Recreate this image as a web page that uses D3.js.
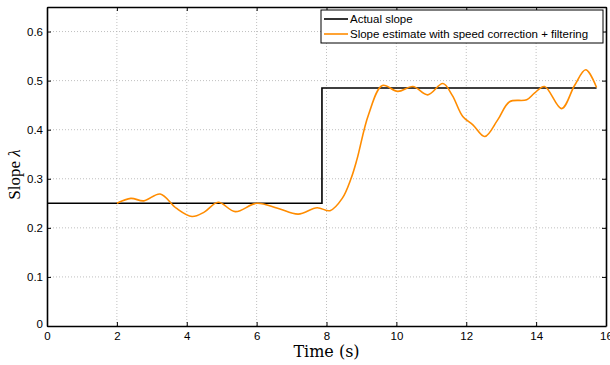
<!DOCTYPE html>
<html lang="en">
<meta charset="utf-8">
<title>Slope estimate</title>
<style>
    body { margin: 0; background: white; }
    svg text { font-family: "Liberation Sans", Arial, sans-serif; }
</style>
<body>
<svg id="canvas"></svg>
<script src="https://cdn.jsdelivr.net/npm/d3@7"></script>
<script>

    /////////////////////// Data //////////////////////
    var x_ticks      = [0, 2, 4, 6, 8, 10, 12, 14, 16];
    var y_ticks      = [0, 0.1, 0.2, 0.3, 0.4, 0.5, 0.6];
    var y_tick_text  = ["0", "0.1", "0.2", "0.3", "0.4", "0.5", "0.6"];

    // actual slope (step)
    var actual_t     = [0, 7.87, 7.87, 15.73];
    var actual_v     = [0.25, 0.25, 0.485, 0.485];

    // estimated slope
    var est_t = [2.0, 2.4, 2.77, 3.24, 3.7, 4.15, 4.5, 4.9, 5.39, 6.0, 6.6, 7.19, 7.73, 8.1,
                 8.45, 8.7, 8.87, 9.2, 9.6, 10.04, 10.47, 10.9, 11.33, 11.6, 11.9, 12.19,
                 12.53, 12.9, 13.24, 13.73, 13.96, 14.24, 14.73, 15.1, 15.42, 15.73];
    var est_v = [0.25, 0.26, 0.255, 0.269, 0.24, 0.223, 0.232, 0.252, 0.233, 0.25, 0.24, 0.228, 0.241, 0.235,
                 0.26, 0.30, 0.339, 0.43, 0.49, 0.478, 0.488, 0.471, 0.494, 0.47, 0.427, 0.41,
                 0.386, 0.42, 0.457, 0.461, 0.475, 0.488, 0.443, 0.49, 0.522, 0.486];

    var legend_text  = ["Actual slope", "Slope estimate with speed correction + filtering"];
    ///////////////////////////////////////////////////

    ////////////////////// Layout /////////////////////
    var width  = 610, height = 365;
    var m = {left: 47, right: 4, top: 7, bottom: 39};
    var pw = width - m.left - m.right;
    var ph = height - m.top - m.bottom;

    var actual_color = '#000000';
    var est_color    = '#ff8c00';
    var grid_color   = '#b0b0b0';
    ///////////////////////////////////////////////////

    var svg = d3.select("#canvas")
        .attr('width', width)
        .attr('height', height);

    var x = d3.scaleLinear().domain([0, 16]).range([m.left, m.left + pw]);
    var y = d3.scaleLinear().domain([0, 0.65]).range([m.top + ph, m.top]);

    // grid
    var grid = svg.append("g");
    grid.selectAll("line.gx").data(x_ticks.slice(1, -1)).enter().append("line")
        .attr('x1', d => x(d)).attr('x2', d => x(d))
        .attr('y1', y(0)).attr('y2', y(0.65))
        .attr('stroke', grid_color).attr('stroke-width', 0.8)
        .attr('stroke-dasharray', '1,2');
    grid.selectAll("line.gy").data(y_ticks.slice(1)).enter().append("line")
        .attr('y1', d => y(d)).attr('y2', d => y(d))
        .attr('x1', x(0)).attr('x2', x(16))
        .attr('stroke', grid_color).attr('stroke-width', 0.8)
        .attr('stroke-dasharray', '1,2');

    // axes (inward ticks, all four sides)
    var xb = svg.append("g").attr('transform', 'translate(0,' + y(0) + ')')
        .call(d3.axisBottom(x).tickValues(x_ticks).tickSizeInner(-4).tickSizeOuter(0).tickPadding(4));
    var xt = svg.append("g").attr('transform', 'translate(0,' + y(0.65) + ')')
        .call(d3.axisTop(x).tickValues(x_ticks).tickSizeInner(-4).tickSizeOuter(0).tickFormat(""));
    var yl = svg.append("g").attr('transform', 'translate(' + x(0) + ',0)')
        .call(d3.axisLeft(y).tickValues(y_ticks).tickSizeInner(-4).tickSizeOuter(0).tickPadding(4)
              .tickFormat((d, i) => y_tick_text[i]));
    var yr = svg.append("g").attr('transform', 'translate(' + x(16) + ',0)')
        .call(d3.axisRight(y).tickValues(y_ticks).tickSizeInner(-4).tickSizeOuter(0).tickFormat(""));

    [xb, xt, yl, yr].forEach(function (g) {
        g.select(".domain").attr('stroke', '#000').attr('stroke-width', 1.6);
        g.selectAll(".tick line").attr('stroke', '#000');
        g.selectAll(".tick text").attr('font-size', 11.5).attr('fill', '#000')
         .attr('font-family', '"Liberation Sans", Arial, sans-serif');
    });
    xb.selectAll(".tick text").attr('dy', '0.9em');
    yl.selectAll(".tick text").attr('dy', '0.35em');
    yl.selectAll(".tick text").filter(d => d === 0).attr('dy', '0.1em');

    // lines
    var actual_line = d3.line()
        .x((d, i) => x(actual_t[i]))
        .y(d => y(d));
    svg.append("path")
        .attr('d', actual_line(actual_v))
        .attr('fill', 'none')
        .attr('stroke', actual_color)
        .attr('stroke-width', 1.6);

    var est_line = d3.line()
        .x((d, i) => x(est_t[i]))
        .y(d => y(d))
        .curve(d3.curveCatmullRom.alpha(0.5));
    svg.append("path")
        .attr('d', est_line(est_v))
        .attr('fill', 'none')
        .attr('stroke', est_color)
        .attr('stroke-width', 1.6);

    // axis labels
    svg.append("text")
        .attr('x', x(8)).attr('y', 357)
        .attr('text-anchor', 'middle')
        .style('font-family', '"DejaVu Serif", "Liberation Serif", serif')
        .attr('font-size', 16)
        .text("Time (s)");
    var ylab = svg.append("text")
        .attr('transform', 'translate(20,' + (y(0.325) + 8) + ') rotate(-90)')
        .attr('text-anchor', 'middle')
        .style('font-family', '"Liberation Serif", "DejaVu Serif", serif')
        .attr('font-size', 17);
    ylab.append("tspan").text("Slope ");
    ylab.append("tspan").attr('font-style', 'italic').text("λ");

    // legend
    var lg = svg.append("g").attr('transform', 'translate(321,10)');
    lg.append("rect")
        .attr('width', 282).attr('height', 33)
        .attr('fill', 'white').attr('stroke', '#000').attr('stroke-width', 1);
    [actual_color, est_color].forEach(function (c, i) {
        lg.append("line")
            .attr('x1', 3).attr('x2', 27)
            .attr('y1', 9 + i * 15).attr('y2', 9 + i * 15)
            .attr('stroke', c).attr('stroke-width', 1.6);
        lg.append("text")
            .attr('x', 29).attr('y', 9 + i * 15)
            .attr('dy', '0.35em')
            .attr('font-size', 11.5)
            .text(legend_text[i]);
    });

</script>
</body>
</html>
